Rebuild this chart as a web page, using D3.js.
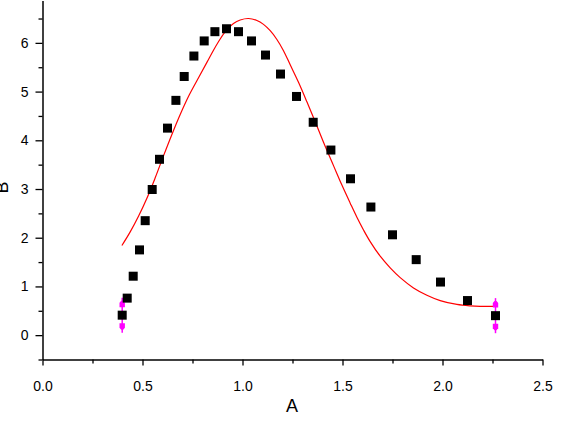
<!DOCTYPE html>
<html><head><meta charset="utf-8">
<script src="https://cdn.jsdelivr.net/npm/d3@7"></script>
<style>
html,body{margin:0;padding:0;background:#fff;}
svg{display:block;font-family:"Liberation Sans",Arial,sans-serif;}
</style></head>
<body>
<svg id="chart" width="572" height="423"></svg>
<script>
// ---- data ----
const pointX = [0.3985,0.4235,0.4535,0.485,0.5135,0.5485,0.585,0.625,0.667,0.7085,0.757,0.8085,0.862,0.92,0.98,1.045,1.115,1.19,1.27,1.3535,1.442,1.54,1.642,1.75,1.8685,1.99,2.125,2.265];
const pointY = [0.41,0.76,1.21,1.75,2.35,2.99,3.61,4.25,4.82,5.31,5.73,6.04,6.23,6.29,6.23,6.04,5.75,5.36,4.90,4.37,3.80,3.21,2.63,2.06,1.55,1.09,0.71,0.40];
const fitX = [0.397,0.4385,0.480,0.522,0.5635,0.605,0.647,0.6885,0.7335,0.7835,0.822,0.855,0.8885,0.922,0.955,0.9885,1.03,1.072,1.105,1.1385,1.172,1.205,1.2385,1.28,1.322,1.3635,1.405,1.455,1.497,1.5385,1.572,1.605,1.6385,1.6885,1.7385,1.7885,1.855,1.922,1.9885,2.072,2.1385,2.1885,2.265];
const fitY = [1.84,2.12,2.44,2.81,3.23,3.68,4.12,4.53,4.93,5.31,5.60,5.85,6.08,6.27,6.40,6.47,6.50,6.46,6.38,6.25,6.07,5.84,5.55,5.19,4.79,4.38,3.96,3.48,3.08,2.71,2.42,2.16,1.92,1.62,1.38,1.18,0.97,0.82,0.71,0.63,0.60,0.59,0.59];
const errX = [0.3985,2.265];
const errY = [0.41,0.40];
const errSize = [0.36,0.36];
const xMajor = [0,0.5,1.0,1.5,2.0,2.5];
const xMinor = [0.25,0.75,1.25,1.75,2.25];
const yMajor = [0,1,2,3,4,5,6];
const yMinor = [-0.5,0.5,1.5,2.5,3.5,4.5,5.5,6.5];
const xTitle = "A", yTitle = "B";

// ---- chart ----
const svg = d3.select("#chart");
const x = d3.scaleLinear().domain([0,2.5]).range([42.5,542.5]);
const y = d3.scaleLinear().domain([-0.5,6.87]).range([359.5,0.5]);

// fit curve
svg.append("path")
  .datum(fitX.map((v,i)=>[v,fitY[i]]))
  .attr("fill","none").attr("stroke","#ff0000").attr("stroke-width",1.2)
  .attr("d", d3.line().x(d=>x(d[0])).y(d=>y(d[1])).curve(d3.curveCatmullRom));

// error bars
const eg = svg.append("g").attr("fill","#ff00ff").attr("stroke","#ff00ff");
errX.forEach((ex,i)=>{
  const cx = x(ex), top = y(errY[i]+errSize[i]), bot = y(errY[i]-errSize[i]);
  eg.append("line").attr("x1",cx).attr("x2",cx).attr("y1",top).attr("y2",bot).attr("stroke-width",1.5);
  eg.append("path").attr("stroke","none")
    .attr("d",`M${cx-1},${top+3}L${cx+1},${top+3}L${cx+2.7},${top+5}L${cx+2.7},${top+9.5}L${cx-2.7},${top+9.5}L${cx-2.7},${top+5}Z`);
  eg.append("path").attr("stroke","none")
    .attr("d",`M${cx-1},${bot-3}L${cx+1},${bot-3}L${cx+2.7},${bot-5}L${cx+2.7},${bot-9.5}L${cx-2.7},${bot-9.5}L${cx-2.7},${bot-5}Z`);
});

// points
svg.append("g").selectAll("rect")
  .data(pointX.map((v,i)=>[v,pointY[i]]))
  .join("rect")
  .attr("x",d=>x(d[0])-4.5).attr("y",d=>y(d[1])-4.5)
  .attr("width",9).attr("height",9).attr("fill","#000");

// axes
svg.append("g").attr("transform","translate(0,359.5)")
  .call(d3.axisBottom(x).tickValues(xMajor).tickFormat(d3.format(".1f")).tickSize(6).tickSizeOuter(0).tickPadding(16));
svg.append("g").attr("transform","translate(0,359.5)")
  .call(d3.axisBottom(x).tickValues(xMinor).tickFormat("").tickSize(4).tickSizeOuter(0))
  .select(".domain").remove();
svg.append("g").attr("transform","translate(42.5,0)")
  .call(d3.axisLeft(y).tickValues(yMajor).tickFormat(d3.format("d")).tickSize(7).tickSizeOuter(0).tickPadding(7));
svg.append("g").attr("transform","translate(42.5,0)")
  .call(d3.axisLeft(y).tickValues(yMinor).tickFormat("").tickSize(4).tickSizeOuter(0))
  .select(".domain").remove();

svg.selectAll(".domain").attr("stroke","#000").attr("stroke-width",1.5);
svg.selectAll(".tick line").attr("stroke","#000").attr("stroke-width",1.3);
svg.selectAll(".tick text").attr("font-size",14).attr("fill","#000")
  .attr("font-family","'Liberation Sans',Arial,sans-serif");

// titles
svg.append("text").attr("x",292).attr("y",412).attr("text-anchor","middle")
  .attr("font-size",18).attr("fill","#000").text(xTitle);
svg.append("text").attr("transform","translate(7.5,187.5) rotate(-90)")
  .attr("text-anchor","middle").attr("font-size",18).attr("fill","#000").text(yTitle);
</script>
</body></html>
